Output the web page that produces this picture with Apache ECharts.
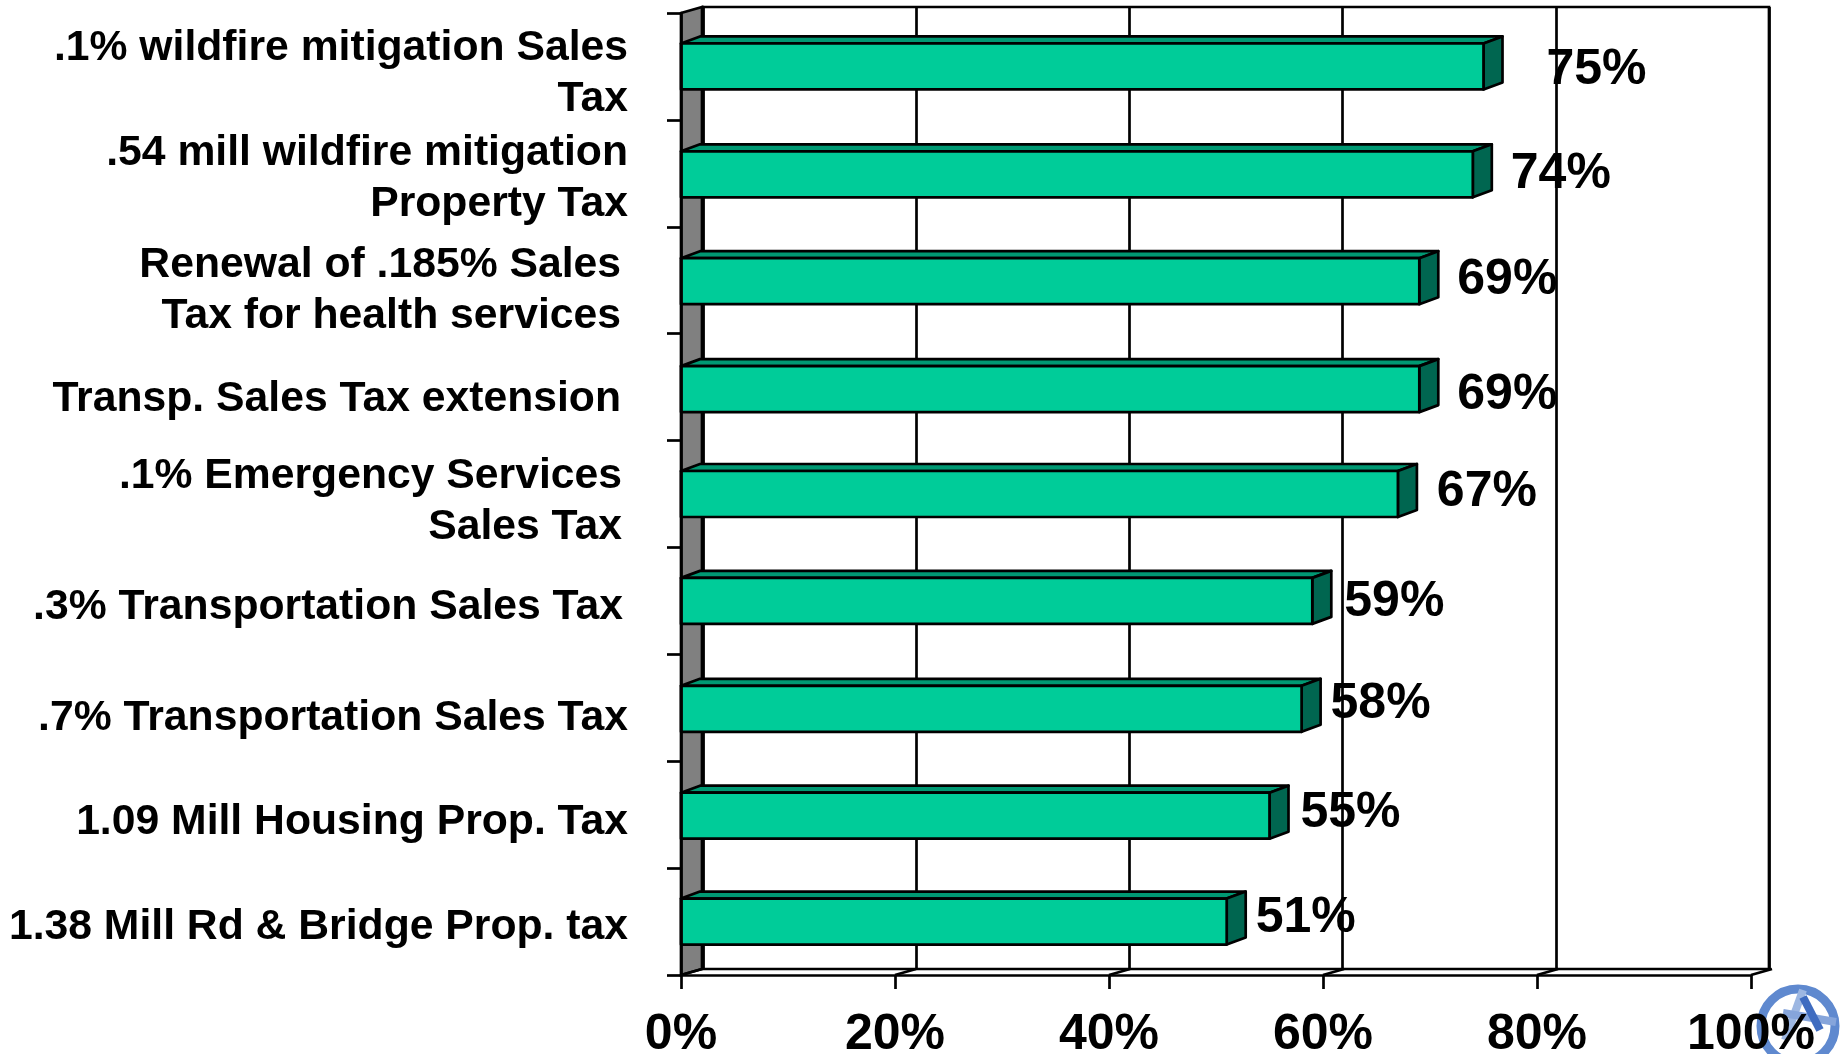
<!DOCTYPE html>
<html>
<head>
<meta charset="utf-8">
<style>
  html, body { margin: 0; padding: 0; background: #fff; }
  #main { width: 1840px; height: 1054px; }
</style>
<script src="https://cdn.jsdelivr.net/npm/echarts@6/dist/echarts.min.js"></script>
</head>
<body>
<div id="main"></div>
<script>
const categories = [
  '.1% wildfire mitigation Sales\nTax',
  '.54 mill wildfire mitigation\nProperty Tax',
  'Renewal of .185% Sales\nTax for health services',
  'Transp. Sales Tax extension',
  '.1% Emergency Services\nSales Tax',
  '.3% Transportation Sales Tax',
  '.7% Transportation Sales Tax',
  '1.09 Mill Housing Prop. Tax',
  '1.38 Mill Rd & Bridge Prop. tax'
];
const values = [75, 74, 69, 69, 67, 59, 58, 55, 51];
const xTicks = [0, 20, 40, 60, 80, 100];

// hand placed labels, the original chart has them slightly off per row
const labelDx = [113, 88, 88, 88, 89, 82, 79, 81, 79];
const labelDy = [4, 1, 0, 8, -2, 1, -4, -1, -3];
const catRight = [0, 0, 7, 7, 6, 5, 0, 0, 0];
const catDown = [7, 5, 11, 12, 8, 6, 10, 8, 6];
const barNudge = [0, 1, 1, 2, 0, 0, 1, 1, 0];

const FONT = '"Liberation Sans", Arial, sans-serif';
const DEPTH_X = 21, DEPTH_Y = 6;
const BAR_H = 46, BAR_DX = 19, BAR_DY = 7;
const LINE = 2.7;
const LINE_GAP = 51;

const rich = {};
categories.forEach((c, i) => {
  const base = { fontFamily: FONT, fontWeight: 'bold', fontSize: 42.7, color: '#000', align: 'right' };
  const top = catDown[i] * 2;
  // lineHeight includes the padding, so grow it by the same amount to keep the line gap
  rich['a' + i] = Object.assign({}, base, { lineHeight: LINE_GAP + top, padding: [top, catRight[i], 0, 0] });
  rich['b' + i] = Object.assign({}, base, { lineHeight: LINE_GAP, padding: [0, catRight[i], 0, 0] });
});

function renderFrame(params, api) {
  const p0 = api.coord([0, 0]);
  const size = api.size([0, 1]);
  const top = p0[1] - size[1] / 2;
  const bottom = top + size[1] * categories.length;
  const x0 = p0[0];
  const children = [{
    type: 'polygon',
    shape: { points: [[x0, top], [x0 + DEPTH_X, top - DEPTH_Y], [x0 + DEPTH_X, bottom - DEPTH_Y], [x0, bottom]] },
    style: { fill: '#808080', stroke: '#000', lineWidth: LINE }
  }];
  xTicks.forEach(t => {
    const x = api.coord([t, 0])[0];
    children.push({
      type: 'line',
      shape: { x1: x, y1: bottom, x2: x + DEPTH_X, y2: bottom - DEPTH_Y },
      style: { stroke: '#000', lineWidth: LINE }
    });
  });
  return { type: 'group', children: children };
}

function renderBar(params, api) {
  const i = api.value(1);
  const end = api.coord([api.value(0), i]);
  const x0 = api.coord([0, i])[0];
  const mid = end[1] + barNudge[i];
  const y1 = mid - BAR_H / 2, y2 = mid + BAR_H / 2;
  const x1 = end[0];
  const line = { stroke: '#000', lineWidth: LINE, lineJoin: 'round' };
  return {
    type: 'group',
    children: [
      {
        type: 'polygon',
        shape: { points: [[x0, y1], [x0 + BAR_DX, y1 - BAR_DY], [x1 + BAR_DX, y1 - BAR_DY], [x1, y1]] },
        style: Object.assign({ fill: '#009973' }, line)
      },
      {
        type: 'polygon',
        shape: { points: [[x1, y1], [x1 + BAR_DX, y1 - BAR_DY], [x1 + BAR_DX, y2 - BAR_DY], [x1, y2]] },
        style: Object.assign({ fill: '#006650' }, line)
      },
      {
        type: 'rect',
        shape: { x: x0, y: y1, width: x1 - x0, height: BAR_H },
        style: Object.assign({ fill: '#00CC99' }, line)
      },
      {
        type: 'text',
        z2: 10,
        style: {
          x: x1 + labelDx[i],
          y: end[1] + labelDy[i],
          text: api.value(0) + '%',
          align: 'center',
          verticalAlign: 'middle',
          fontFamily: FONT,
          fontWeight: 'bold',
          fontSize: 50,
          fill: '#000'
        }
      }
    ]
  };
}

const chart = echarts.init(document.getElementById('main'), null, { renderer: 'canvas' });
chart.setOption({
  animation: false,
  backgroundColor: '#fff',
  grid: [
    { left: 681, top: 13, width: 1070, height: 962, outerBoundsMode: 'none' },
    { left: 703, top: 13 - DEPTH_Y, width: 1066, height: 962, outerBoundsMode: 'none', show: true, borderColor: '#000', borderWidth: LINE, backgroundColor: '#fff', z: 0 }
  ],
  xAxis: [
    {
      gridIndex: 0, type: 'value', min: 0, max: 100, interval: 20, z: 5,
      axisLine: { show: true, onZero: false, lineStyle: { color: '#000', width: LINE } },
      axisTick: { show: true, length: 14, lineStyle: { color: '#000', width: LINE } },
      splitLine: { show: false },
      axisLabel: {
        margin: 35, formatter: '{value}%', color: '#000',
        fontFamily: FONT, fontWeight: 'bold', fontSize: 50,
        showMinLabel: true, showMaxLabel: true, hideOverlap: false
      }
    },
    {
      gridIndex: 1, type: 'value', min: 0, max: 100, interval: 20, z: 1,
      axisLine: { show: false }, axisTick: { show: false }, axisLabel: { show: false },
      splitLine: { show: true, lineStyle: { color: '#000', width: LINE } }
    }
  ],
  yAxis: [
    {
      gridIndex: 0, type: 'category', inverse: true, data: categories, z: 5,
      axisLine: { show: true, lineStyle: { color: '#000', width: LINE } },
      axisTick: { show: true, length: 14, alignWithLabel: false, lineStyle: { color: '#000', width: LINE } },
      axisLabel: {
        margin: 53,
        interval: 0,
        align: 'right',
        formatter: (value, index) => value.split('\n')
          .map((s, k) => `{${k === 0 ? 'a' : 'b'}${index}|${s}}`).join('\n'),
        rich: rich
      }
    },
    {
      gridIndex: 1, type: 'category', inverse: true, data: categories, z: 1,
      axisLine: { show: false }, axisTick: { show: false }, axisLabel: { show: false }, splitLine: { show: false }
    }
  ],
  graphic: [{
    type: 'group', z: 0,
    children: [
      { type: 'circle', shape: { cx: 1798, cy: 1026, r: 37 }, style: { fill: 'none', stroke: '#5f89cf', lineWidth: 9 } },
      { type: 'line', shape: { x1: 1803, y1: 990, x2: 1785, y2: 1040 }, style: { stroke: '#9db7e2', lineWidth: 8 } },
      { type: 'line', shape: { x1: 1783, y1: 1013, x2: 1836, y2: 1022 }, style: { stroke: '#86a5db', lineWidth: 8 } },
      { type: 'line', shape: { x1: 1803, y1: 997, x2: 1820, y2: 1030 }, style: { stroke: '#3f6cc0', lineWidth: 8 } }
    ]
  }],
  series: [
    {
      name: 'frame', type: 'custom', xAxisIndex: 0, yAxisIndex: 0, z: 3, silent: true,
      renderItem: renderFrame, data: [[0, 0]], clip: false
    },
    {
      name: 'share', type: 'custom', xAxisIndex: 0, yAxisIndex: 0, z: 4,
      renderItem: renderBar, clip: false,
      encode: { x: 0, y: 1 },
      data: values.map((v, i) => [v, i])
    }
  ]
});
</script>
</body>
</html>
